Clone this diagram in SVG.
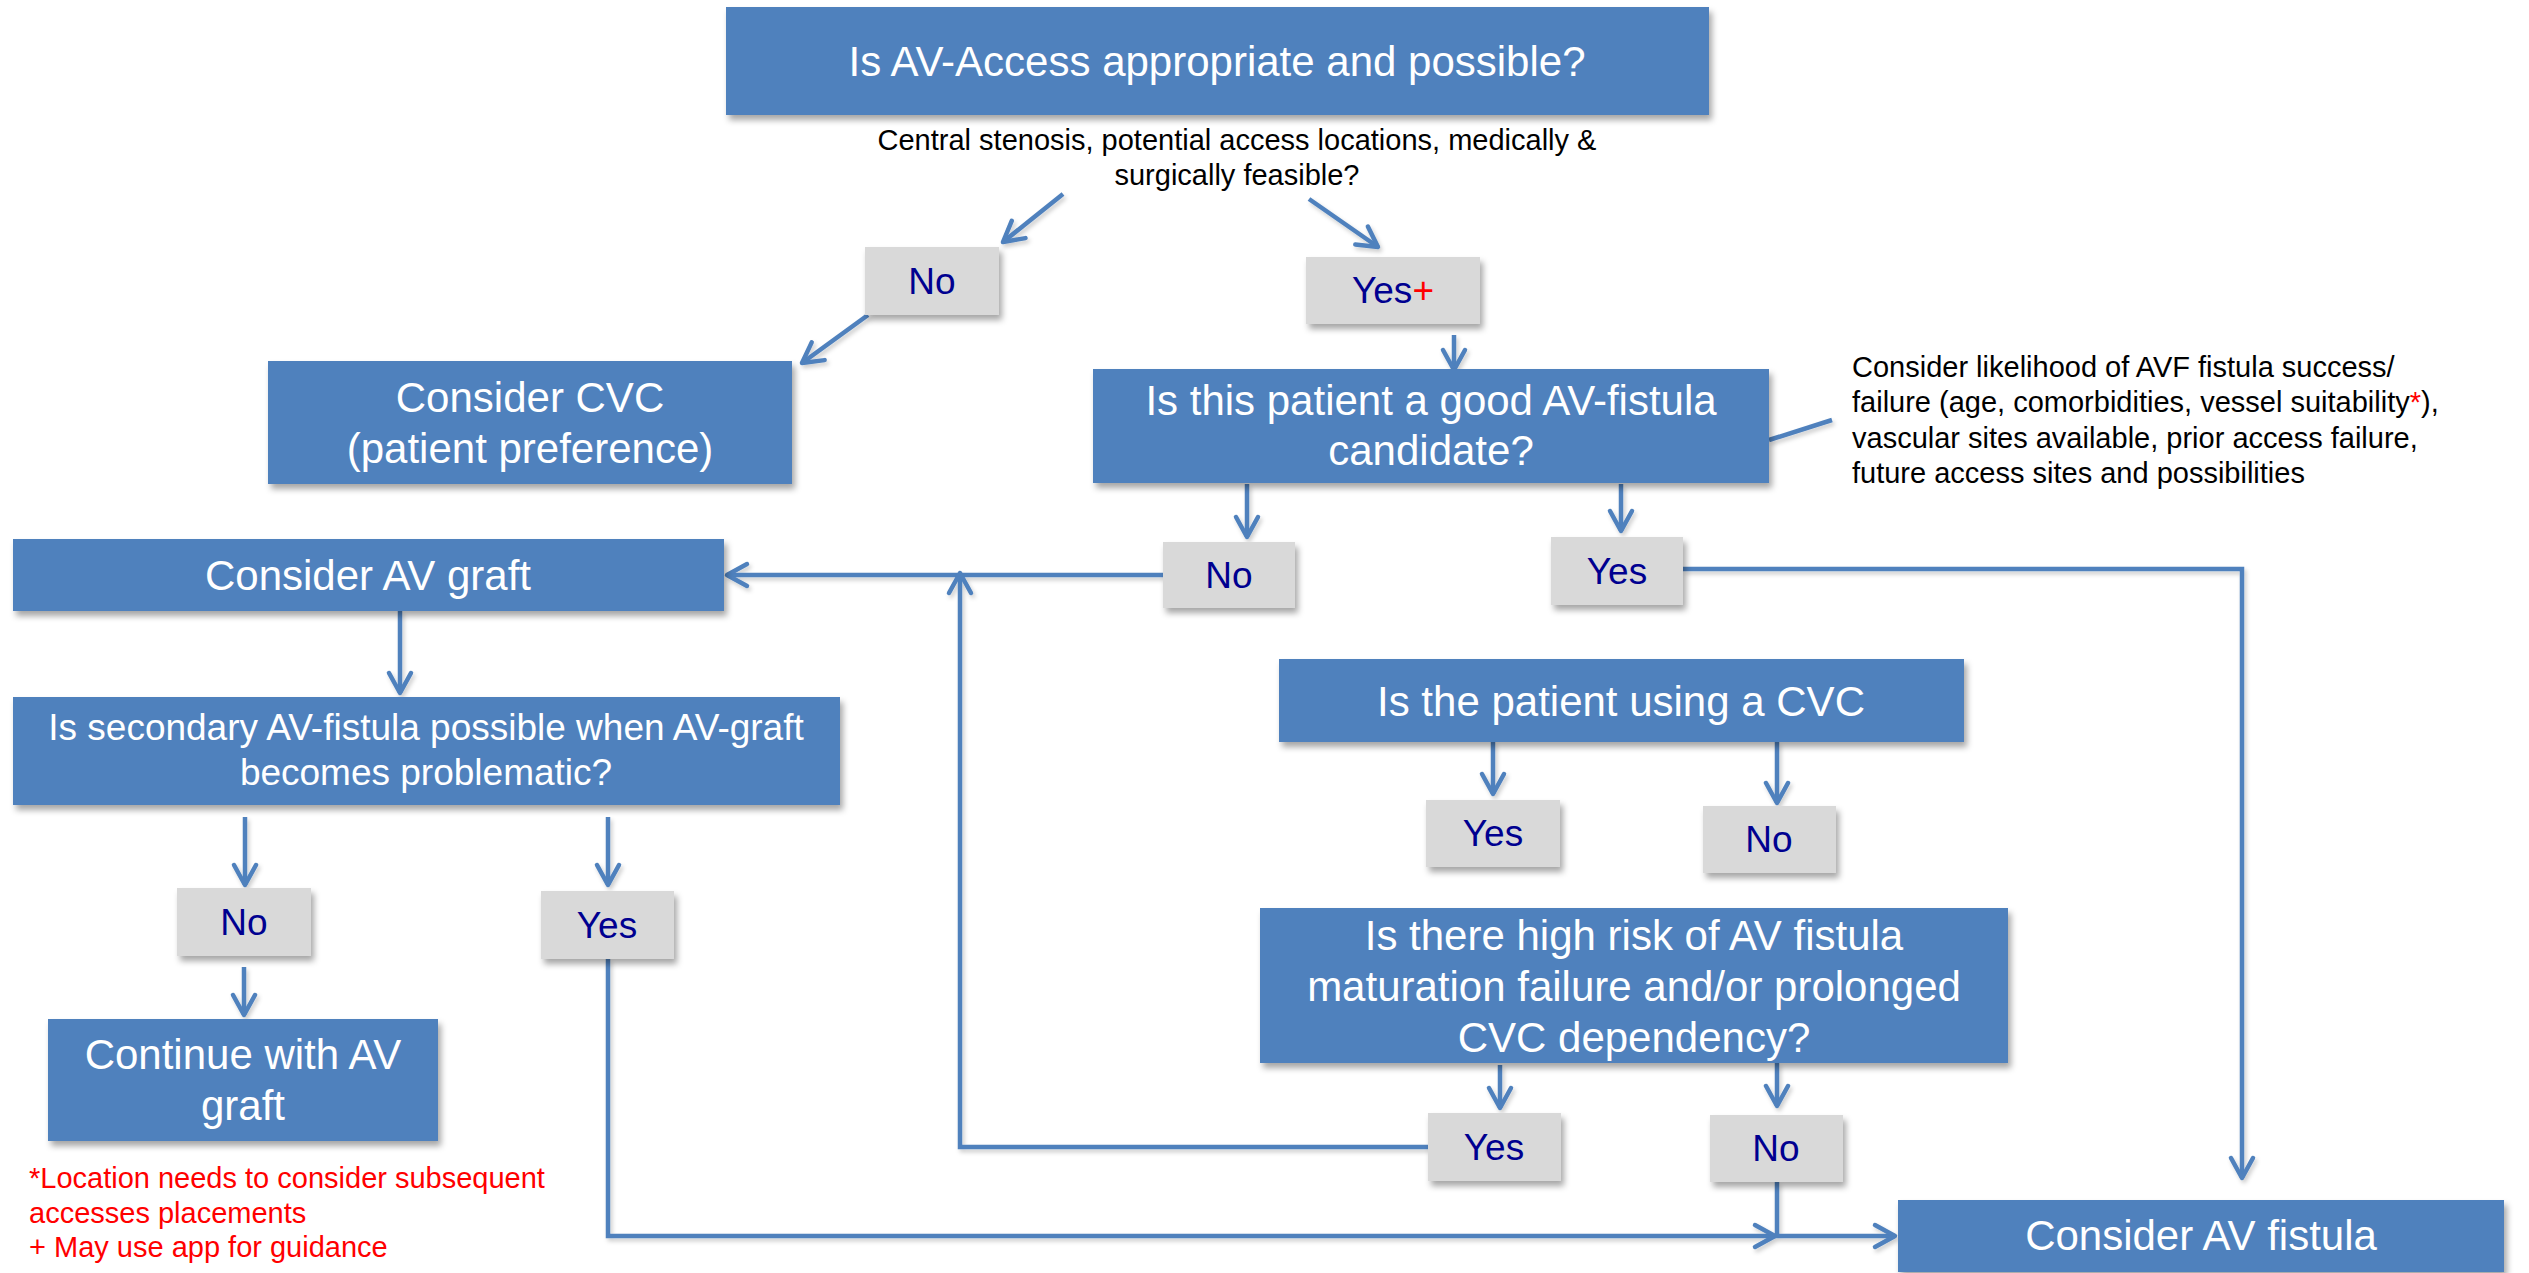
<svg xmlns="http://www.w3.org/2000/svg" width="2529" height="1273" viewBox="0 0 2529 1273">
<defs>
<filter id="sh" x="-10%" y="-20%" width="130%" height="160%">
<feDropShadow dx="3" dy="5" stdDeviation="3" flood-color="#000" flood-opacity="0.35"/>
</filter>
<filter id="lsh" filterUnits="userSpaceOnUse" x="0" y="0" width="2529" height="1273">
<feDropShadow dx="2" dy="3" stdDeviation="2" flood-color="#000" flood-opacity="0.2"/>
</filter>
<marker id="ah" markerUnits="userSpaceOnUse" markerWidth="34" markerHeight="34" viewBox="-26 -17 34 34" refX="0" refY="0" orient="auto">
<path d="M-20,-11 L0,0 L-20,11" fill="none" stroke="#4F81BD" stroke-width="4.5" stroke-linecap="round" stroke-linejoin="round"/>
</marker>
<style>
.box{fill:#4F81BD;filter:url(#sh)}
.lbl{fill:#D9D9D9;filter:url(#sh)}
.bt{font-family:"Liberation Sans",Arial,sans-serif;font-size:42px;fill:#FFFFFF;text-anchor:middle}
.bt37{font-family:"Liberation Sans",Arial,sans-serif;font-size:37px;fill:#FFFFFF;text-anchor:middle}
.lt{font-family:"Liberation Sans",Arial,sans-serif;font-size:37px;fill:#000090;text-anchor:middle}
.nt{font-family:"Liberation Sans",Arial,sans-serif;font-size:29px;fill:#000000}
.rt{font-family:"Liberation Sans",Arial,sans-serif;font-size:29px;fill:#FF0000}
.red{fill:#FF0000}
.c{fill:none;stroke:#4F81BD;stroke-width:4.5}
.ca{fill:none;stroke:#4F81BD;stroke-width:4.5;marker-end:url(#ah)}
</style>
</defs>
<rect width="2529" height="1273" fill="#FFFFFF"/>

<g id="connectors" filter="url(#lsh)">
<line class="ca" x1="1063" y1="194" x2="1003" y2="242"/>
<line class="ca" x1="1309" y1="199" x2="1378" y2="247"/>
<line class="ca" x1="868" y1="315" x2="802" y2="363"/>
<line class="ca" x1="1454" y1="335" x2="1454" y2="370"/>
<line class="c" x1="1769" y1="440" x2="1832" y2="420"/>
<line class="ca" x1="1247" y1="484" x2="1247" y2="537"/>
<line class="ca" x1="1621" y1="484" x2="1621" y2="531"/>
<line class="ca" x1="1163" y1="575" x2="727" y2="575"/>
<polyline class="ca" points="1428,1147 960,1147 960,573"/>
<polyline class="ca" points="1683,569 2242,569 2242,1178"/>
<line class="ca" x1="400" y1="611" x2="400" y2="693"/>
<line class="ca" x1="245" y1="817" x2="245" y2="885"/>
<line class="ca" x1="608" y1="817" x2="608" y2="885"/>
<line class="ca" x1="244" y1="967" x2="244" y2="1015"/>
<polyline class="ca" points="608,959 608,1236 1775,1236"/>
<polyline class="ca" points="1777,1182 1777,1236 1895,1236"/>
<line class="ca" x1="1493" y1="742" x2="1493" y2="794"/>
<line class="ca" x1="1777" y1="742" x2="1777" y2="803"/>
<line class="ca" x1="1500" y1="1065" x2="1500" y2="1108"/>
<line class="ca" x1="1777" y1="1063" x2="1777" y2="1106"/>
</g>

<g id="q-access">
<rect class="box" x="726" y="7" width="983" height="108"/>
<text class="bt" x="1217" y="76">Is AV-Access appropriate and possible?</text>
</g>
<g id="note-access">
<text class="nt" x="1237" y="150" text-anchor="middle">Central stenosis, potential access locations, medically &amp;</text>
<text class="nt" x="1237" y="185" text-anchor="middle">surgically feasible?</text>
</g>
<g id="no-access">
<rect class="lbl" x="865" y="247" width="134" height="68"/>
<text class="lt" x="932" y="294">No</text>
</g>
<g id="yes-access">
<rect class="lbl" x="1306" y="257" width="174" height="67"/>
<text class="lt" x="1393" y="303">Yes<tspan class="red">+</tspan></text>
</g>
<g id="consider-cvc">
<rect class="box" x="268" y="361" width="524" height="123"/>
<text class="bt" x="530" y="412">Consider CVC</text>
<text class="bt" x="530" y="463">(patient preference)</text>
</g>
<g id="q-candidate">
<rect class="box" x="1093" y="369" width="676" height="114"/>
<text class="bt" x="1431" y="415">Is this patient a good AV-fistula</text>
<text class="bt" x="1431" y="465">candidate?</text>
</g>
<g id="note-candidate">
<text class="nt" x="1852" y="377">Consider likelihood of AVF fistula success/</text>
<text class="nt" x="1852" y="412">failure (age, comorbidities, vessel suitability<tspan class="red">*</tspan>),</text>
<text class="nt" x="1852" y="448">vascular sites available, prior access failure,</text>
<text class="nt" x="1852" y="483">future access sites and possibilities</text>
</g>
<g id="consider-graft">
<rect class="box" x="13" y="539" width="711" height="72"/>
<text class="bt" x="368" y="590">Consider AV graft</text>
</g>
<g id="no-candidate">
<rect class="lbl" x="1163" y="542" width="132" height="66"/>
<text class="lt" x="1229" y="588">No</text>
</g>
<g id="yes-candidate">
<rect class="lbl" x="1551" y="537" width="132" height="68"/>
<text class="lt" x="1617" y="584">Yes</text>
</g>
<g id="q-secondary">
<rect class="box" x="13" y="697" width="827" height="108"/>
<text class="bt37" x="426" y="740">Is secondary AV-fistula possible when AV-graft</text>
<text class="bt37" x="426" y="785">becomes problematic?</text>
</g>
<g id="q-cvc-use">
<rect class="box" x="1279" y="659" width="685" height="83"/>
<text class="bt" x="1621" y="716">Is the patient using a CVC</text>
</g>
<g id="yes-cvc">
<rect class="lbl" x="1426" y="800" width="134" height="67"/>
<text class="lt" x="1493" y="846">Yes</text>
</g>
<g id="no-cvc">
<rect class="lbl" x="1703" y="806" width="133" height="67"/>
<text class="lt" x="1769" y="852">No</text>
</g>
<g id="q-risk">
<rect class="box" x="1260" y="908" width="748" height="155"/>
<text class="bt" x="1634" y="950">Is there high risk of AV fistula</text>
<text class="bt" x="1634" y="1001">maturation failure and/or prolonged</text>
<text class="bt" x="1634" y="1052">CVC dependency?</text>
</g>
<g id="no-secondary">
<rect class="lbl" x="177" y="888" width="134" height="68"/>
<text class="lt" x="244" y="935">No</text>
</g>
<g id="yes-secondary">
<rect class="lbl" x="541" y="891" width="133" height="68"/>
<text class="lt" x="607" y="938">Yes</text>
</g>
<g id="continue-graft">
<rect class="box" x="48" y="1019" width="390" height="122"/>
<text class="bt" x="243" y="1069">Continue with AV</text>
<text class="bt" x="243" y="1120">graft</text>
</g>
<g id="footnote">
<text class="rt" x="29" y="1188">*Location needs to consider subsequent</text>
<text class="rt" x="29" y="1223">accesses placements</text>
<text class="rt" x="29" y="1257">+ May use app for guidance</text>
</g>
<g id="yes-risk">
<rect class="lbl" x="1428" y="1113" width="133" height="68"/>
<text class="lt" x="1494" y="1160">Yes</text>
</g>
<g id="no-risk">
<rect class="lbl" x="1710" y="1115" width="133" height="67"/>
<text class="lt" x="1776" y="1161">No</text>
</g>
<g id="consider-fistula">
<rect class="box" x="1898" y="1200" width="606" height="72"/>
<text class="bt" x="2201" y="1250">Consider AV fistula</text>
</g>
</svg>
